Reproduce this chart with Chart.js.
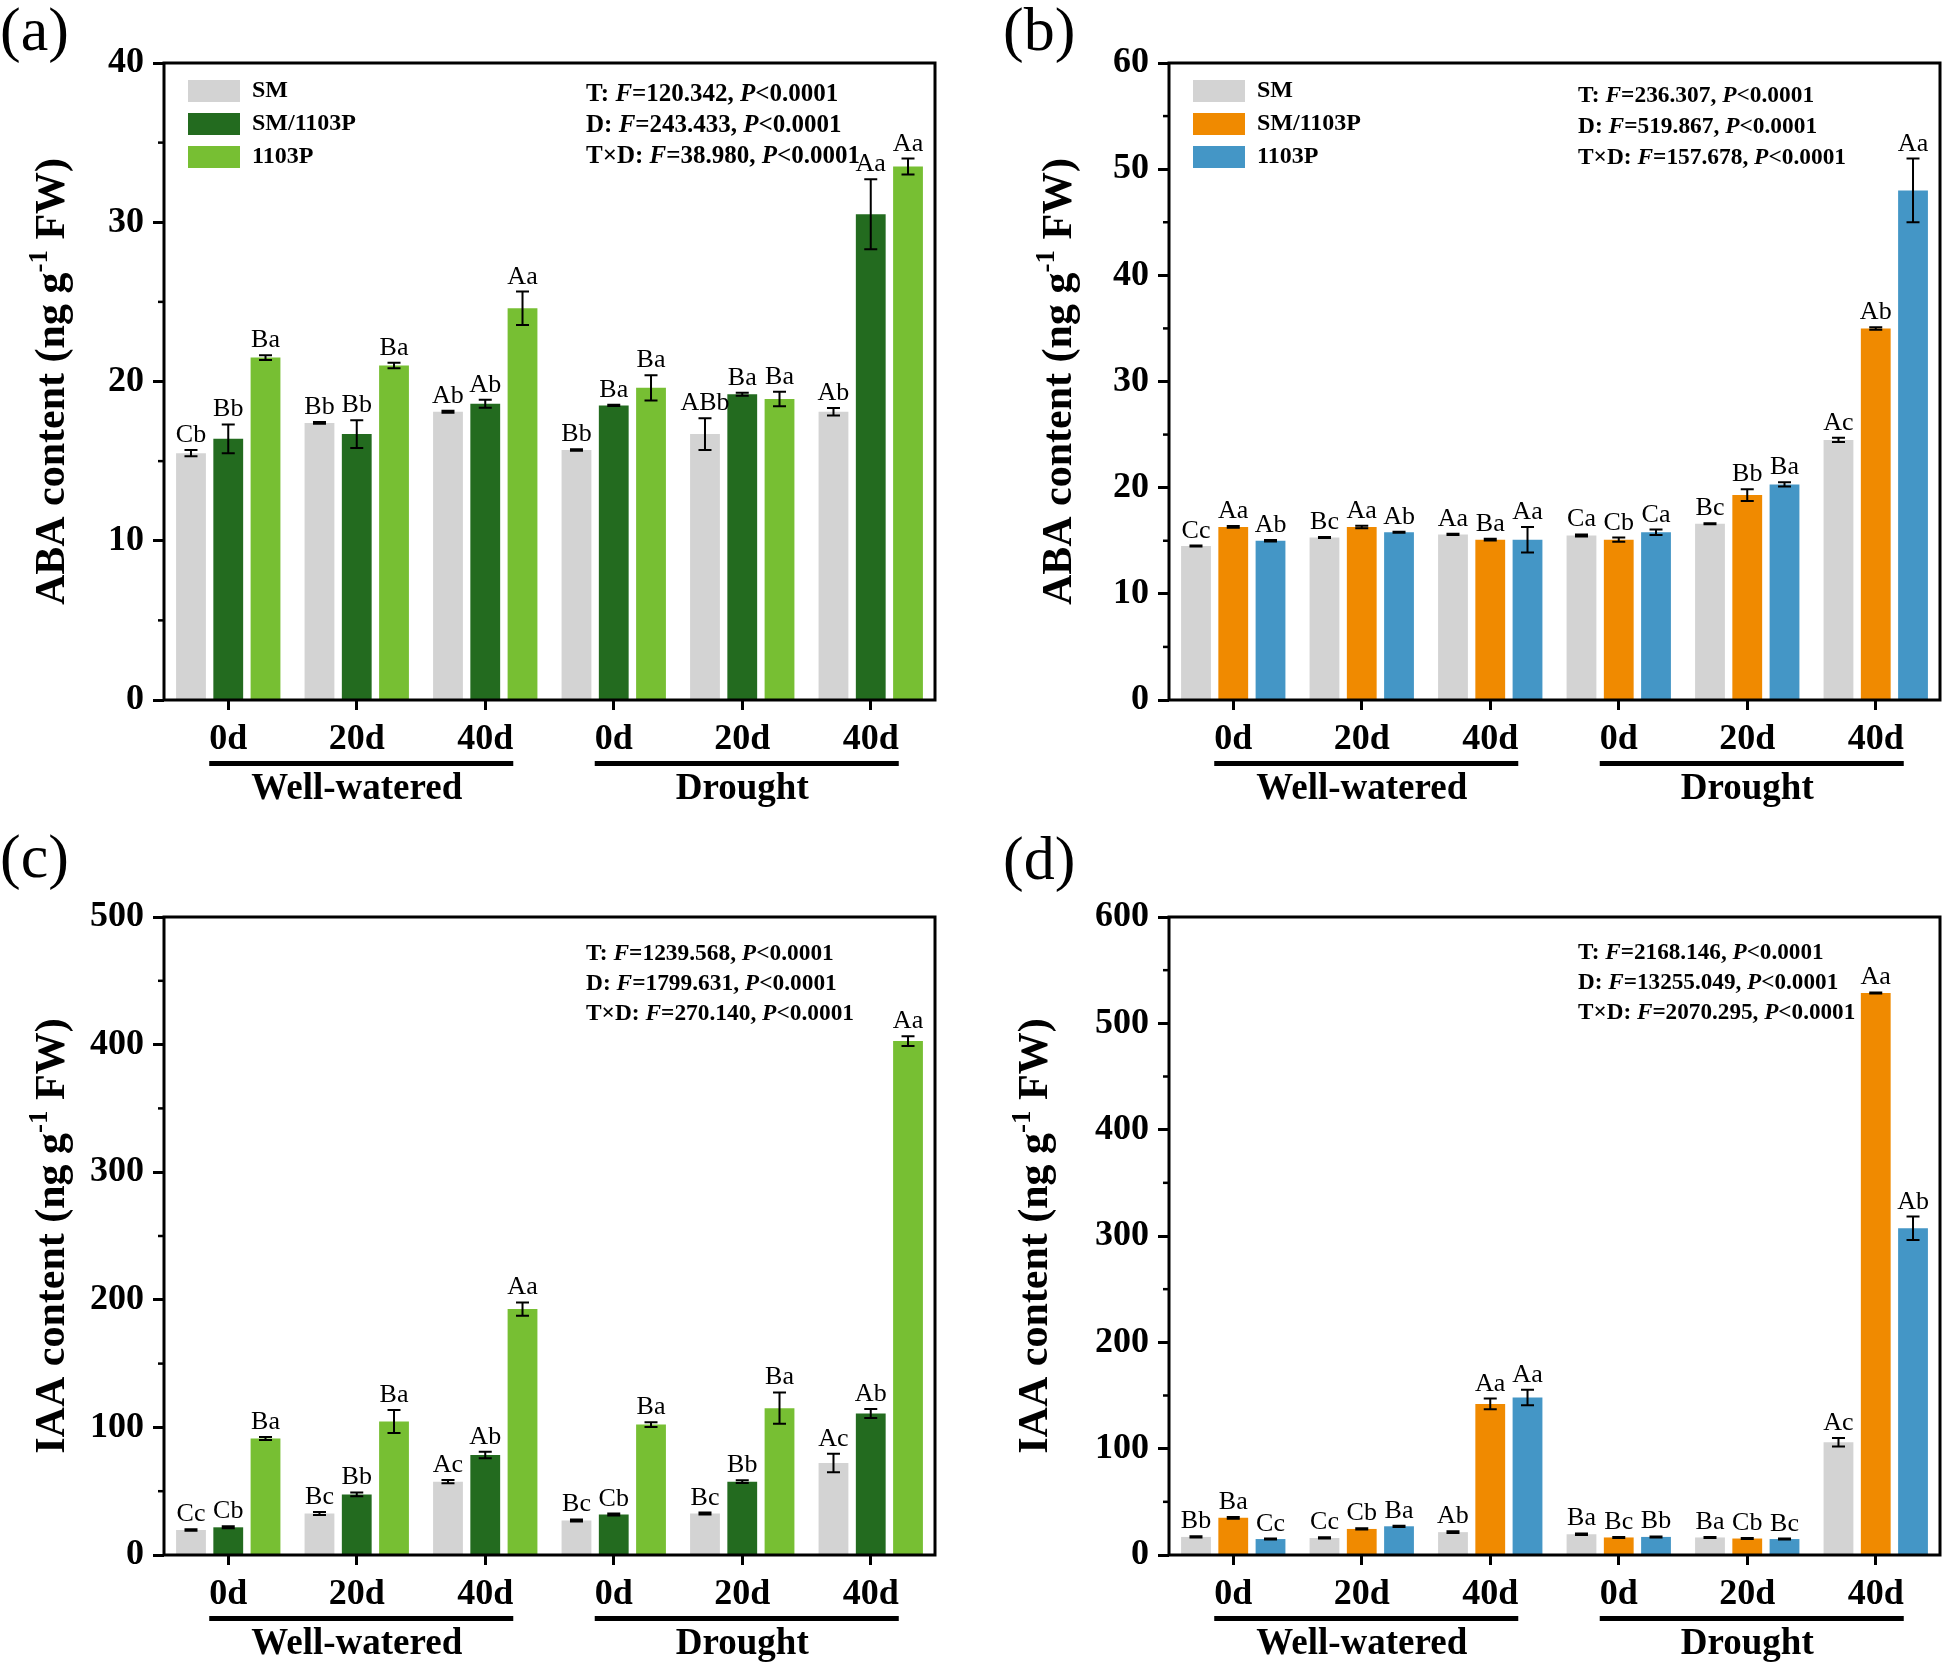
<!DOCTYPE html>
<html>
<head>
<meta charset="utf-8">
<script src="https://cdn.jsdelivr.net/npm/chart.js@4.4.0/dist/chart.umd.min.js"></script>
<style>
html, body { margin: 0; padding: 0; background: #fff; }
#wrap { position: relative; width: 1944px; height: 1668px; }
canvas { position: absolute; width: 972px; height: 834px; }
</style>
</head>
<body>
<div id="wrap">
  <canvas id="pa" width="972" height="834" style="left:0;top:0"></canvas>
  <canvas id="pb" width="972" height="834" style="left:972px;top:0"></canvas>
  <canvas id="pc" width="972" height="834" style="left:0;top:834px"></canvas>
  <canvas id="pd" width="972" height="834" style="left:972px;top:834px"></canvas>
</div>
<script>
// categories
var groups = ['0d', '20d', '40d', '0d', '20d', '40d'];
var treatments = ['Well-watered', 'Drought'];
var seriesNames = ['SM', 'SM/1103P', '1103P'];

// (a) ABA, green set
var abaA_SM = [15.5, 17.4, 18.1, 15.7, 16.7, 18.1];
var abaA_SMerr = [0.2, 0.05, 0.07, 0.05, 1.0, 0.23];
var abaA_MIX = [16.4, 16.7, 18.6, 18.5, 19.2, 30.5];
var abaA_MIXerr = [0.9, 0.87, 0.25, 0.04, 0.1, 2.2];
var abaA_P = [21.5, 21.0, 24.6, 19.6, 18.9, 33.5];
var abaA_Perr = [0.15, 0.17, 1.05, 0.8, 0.45, 0.5];
var abaA_letters = [
  ['Cb', 'Bb', 'Ab', 'Bb', 'ABb', 'Ab'],
  ['Bb', 'Bb', 'Ab', 'Ba', 'Ba', 'Aa'],
  ['Ba', 'Ba', 'Aa', 'Ba', 'Ba', 'Aa']
];
var abaA_stats = ['T: F=120.342, P<0.0001', 'D: F=243.433, P<0.0001', 'T×D: F=38.980, P<0.0001'];

// (b) ABA, orange/blue set
var abaB_SM = [14.5, 15.3, 15.6, 15.5, 16.6, 24.5];
var abaB_SMerr = [0.05, 0.05, 0.05, 0.1, 0.05, 0.2];
var abaB_MIX = [16.3, 16.3, 15.1, 15.1, 19.3, 35.0];
var abaB_MIXerr = [0.08, 0.12, 0.08, 0.2, 0.55, 0.12];
var abaB_P = [15.0, 15.8, 15.1, 15.8, 20.3, 48.0];
var abaB_Perr = [0.08, 0.05, 1.2, 0.25, 0.2, 3.0];
var abaB_letters = [
  ['Cc', 'Bc', 'Aa', 'Ca', 'Bc', 'Ac'],
  ['Aa', 'Aa', 'Ba', 'Cb', 'Bb', 'Ab'],
  ['Ab', 'Ab', 'Aa', 'Ca', 'Ba', 'Aa']
];
var abaB_stats = ['T: F=236.307, P<0.0001', 'D: F=519.867, P<0.0001', 'T×D: F=157.678, P<0.0001'];

// (c) IAA, green set
var iaaC_SM = [19.6, 32.5, 57.5, 27.1, 32.5, 72.1];
var iaaC_SMerr = [0.5, 1.2, 1.3, 0.8, 0.8, 7.3];
var iaaC_MIX = [21.7, 47.5, 78.4, 31.7, 57.5, 110.9];
var iaaC_MIXerr = [0.8, 1.5, 2.5, 0.8, 1.0, 3.5];
var iaaC_P = [91.3, 104.7, 192.7, 102.2, 115.1, 402.8];
var iaaC_Perr = [1.2, 9.0, 5.2, 1.8, 12.3, 3.8];
var iaaC_letters = [
  ['Cc', 'Bc', 'Ac', 'Bc', 'Bc', 'Ac'],
  ['Cb', 'Bb', 'Ab', 'Cb', 'Bb', 'Ab'],
  ['Ba', 'Ba', 'Aa', 'Ba', 'Ba', 'Aa']
];
var iaaC_stats = ['T: F=1239.568, P<0.0001', 'D: F=1799.631, P<0.0001', 'T×D: F=270.140, P<0.0001'];

// (d) IAA, orange/blue set
var iaaD_SM = [17.0, 16.0, 21.5, 19.5, 16.5, 106.1];
var iaaD_SMerr = [0.6, 0.6, 0.8, 0.8, 0.5, 4.0];
var iaaD_MIX = [35.0, 24.5, 142.1, 16.5, 15.5, 528.5];
var iaaD_MIXerr = [0.8, 0.6, 5.0, 0.5, 0.5, 0.5];
var iaaD_P = [15.0, 27.0, 148.1, 17.0, 15.0, 307.3];
var iaaD_Perr = [0.5, 0.6, 7.3, 0.5, 0.5, 11.0];
var iaaD_letters = [
  ['Bb', 'Cc', 'Ab', 'Ba', 'Ba', 'Ac'],
  ['Ba', 'Cb', 'Aa', 'Bc', 'Cb', 'Aa'],
  ['Cc', 'Ba', 'Aa', 'Bb', 'Bc', 'Ab']
];
var iaaD_stats = ['T: F=2168.146, P<0.0001', 'D: F=13255.049, P<0.0001', 'T×D: F=2070.295, P<0.0001'];

var greenColors = ['#d3d3d3', '#236b1f', '#77bf33'];
var warmColors = ['#d3d3d3', '#f08a00', '#4496c6'];

var SERIF = 'Liberation Serif';
Chart.defaults.font.family = SERIF;
Chart.defaults.color = '#000';

// text with italic F and P
function drawRich(ctx, str, x, y, size) {
  var parts = str.split(/(F(?==)|P(?=<))/);
  for (var k = 0; k < parts.length; k++) {
    var p = parts[k];
    if (!p) continue;
    ctx.font = (k % 2 === 1 ? 'italic ' : '') + 'bold ' + size + 'px ' + SERIF;
    ctx.fillText(p, x, y);
    x += ctx.measureText(p).width;
  }
}

var decoPlugin = {
  id: 'deco',
  afterDraw: function (chart) {
    var o = chart.options.plugins.deco;
    var ctx = chart.ctx, a = chart.chartArea;
    var xs = chart.scales.x, ys = chart.scales.y;
    ctx.save();
    ctx.fillStyle = '#000';
    ctx.strokeStyle = '#000';

    // error bars + letters
    chart.data.datasets.forEach(function (ds, i) {
      var meta = chart.getDatasetMeta(i);
      meta.data.forEach(function (bar, j) {
        var v = ds.data[j], e = ds.err[j];
        var yHi = ys.getPixelForValue(v + e), yLo = ys.getPixelForValue(v - e);
        ctx.lineWidth = 2;
        ctx.beginPath();
        ctx.moveTo(bar.x, yHi); ctx.lineTo(bar.x, yLo);
        ctx.moveTo(bar.x - 6.5, yHi); ctx.lineTo(bar.x + 6.5, yHi);
        ctx.moveTo(bar.x - 6.5, yLo); ctx.lineTo(bar.x + 6.5, yLo);
        ctx.stroke();
        ctx.font = '26px ' + SERIF;
        ctx.textAlign = 'center';
        ctx.textBaseline = 'alphabetic';
        ctx.fillText(ds.letters[j], bar.x, yHi - 8);
      });
    });

    // frame
    ctx.lineWidth = 3;
    ctx.strokeRect(a.left, a.top, a.right - a.left, a.bottom - a.top);

    // minor y ticks
    ctx.lineWidth = 2.5;
    for (var v = o.step / 2; v < o.max; v += o.step) {
      var py = ys.getPixelForValue(v);
      ctx.beginPath(); ctx.moveTo(a.left - 6, py); ctx.lineTo(a.left, py); ctx.stroke();
    }

    // legend
    if (o.legend) {
      chart.data.datasets.forEach(function (ds, i) {
        var cy = a.top + 28 + 33 * i;
        ctx.fillStyle = ds.backgroundColor;
        ctx.fillRect(a.left + 24, cy - 11, 52, 22);
        ctx.fillStyle = '#000';
        ctx.font = 'bold 24px ' + SERIF;
        ctx.textAlign = 'left';
        ctx.textBaseline = 'middle';
        ctx.fillText(ds.label, a.left + 88, cy);
      });
    }

    // ANOVA text
    ctx.textAlign = 'left';
    ctx.textBaseline = 'middle';
    o.stats.forEach(function (s, k) {
      drawRich(ctx, s, o.statsX, a.top + o.statsY + o.statsGap * k, o.statsSize);
    });

    // treatment underlines and names
    ctx.textBaseline = 'alphabetic';
    ctx.textAlign = 'center';
    for (var g = 0; g < 2; g++) {
      var i0 = g * 3, i2 = g * 3 + 2;
      ctx.font = 'bold 36px ' + SERIF;
      var x0 = xs.getPixelForTick(i0) - ctx.measureText(groups[i0]).width / 2;
      var x2 = xs.getPixelForTick(i2) + ctx.measureText(groups[i2]).width / 2;
      ctx.fillRect(x0, a.bottom + 61, x2 - x0, 5);
      ctx.font = 'bold 37px ' + SERIF;
      ctx.fillText(treatments[g], xs.getPixelForTick(g * 3 + 1), a.bottom + 99);
    }

    // y title with superscript
    ctx.save();
    ctx.translate(o.titleX, (a.top + a.bottom) / 2);
    ctx.rotate(-Math.PI / 2);
    var t1 = o.yTitle + ' content (ng g', t2 = '-1', t3 = ' FW)';
    ctx.font = 'bold 42px ' + SERIF;
    var w1 = ctx.measureText(t1).width, w3 = ctx.measureText(t3).width;
    ctx.font = 'bold 27px ' + SERIF;
    var w2 = ctx.measureText(t2).width;
    var sx = -(w1 + w2 + w3) / 2;
    ctx.textAlign = 'left';
    ctx.font = 'bold 42px ' + SERIF;
    ctx.fillText(t1, sx, 0);
    ctx.fillText(t3, sx + w1 + w2, 0);
    ctx.font = 'bold 27px ' + SERIF;
    ctx.fillText(t2, sx + w1, -17);
    ctx.restore();

    // panel tag
    ctx.font = '62px ' + SERIF;
    ctx.textAlign = 'left';
    ctx.fillText(o.tag, o.tagX, o.tagY);
    ctx.restore();
  }
};

function makePanel(id, p) {
  var H = 834;
  var sets = [p.sm, p.mix, p.pp];
  var errs = [p.smErr, p.mixErr, p.ppErr];
  return new Chart(document.getElementById(id), {
    type: 'bar',
    data: {
      labels: groups,
      datasets: seriesNames.map(function (name, i) {
        return {
          label: name,
          data: sets[i],
          err: errs[i],
          letters: p.letters[i],
          backgroundColor: p.colors[i],
          borderWidth: 0,
          categoryPercentage: 0.87,
          barPercentage: 0.8
        };
      })
    },
    options: {
      responsive: false,
      animation: false,
      layout: { padding: { top: p.area.top, right: 972 - p.area.right, left: 0, bottom: 0 } },
      plugins: {
        legend: { display: false },
        tooltip: { enabled: false },
        deco: {
          legend: p.legend, stats: p.stats, statsX: p.statsX, statsY: p.statsY,
          statsGap: p.statsGap, statsSize: p.statsSize,
          step: p.step, max: p.max, yTitle: p.yTitle, titleX: p.titleX,
          tag: p.tag, tagX: p.tagX, tagY: p.tagY
        }
      },
      scales: {
        x: {
          grid: { display: true, drawOnChartArea: false, offset: false, tickLength: 10, tickWidth: 3, color: '#000' },
          border: { display: false },
          ticks: { font: { size: 36, weight: 'bold' }, padding: 8, maxRotation: 0 },
          afterFit: function (s) { s.height = H - p.area.bottom; }
        },
        y: {
          min: 0, max: p.max,
          grid: { display: true, drawOnChartArea: false, tickLength: 11, tickWidth: 3, color: '#000' },
          border: { display: false },
          ticks: { stepSize: p.step, font: { size: 36, weight: 'bold' }, padding: 9 },
          afterFit: function (s) { s.width = p.area.left; }
        }
      }
    },
    plugins: [decoPlugin]
  });
}

makePanel('pa', {
  sm: abaA_SM, smErr: abaA_SMerr, mix: abaA_MIX, mixErr: abaA_MIXerr, pp: abaA_P, ppErr: abaA_Perr,
  letters: abaA_letters, stats: abaA_stats, colors: greenColors, legend: true,
  max: 40, step: 10, yTitle: 'ABA',
  area: { left: 164, right: 935, top: 63, bottom: 700 },
  titleX: 64, statsX: 586, statsY: 32, statsGap: 31, statsSize: 25,
  tag: '(a)', tagX: 0, tagY: 50
});
makePanel('pb', {
  sm: abaB_SM, smErr: abaB_SMerr, mix: abaB_MIX, mixErr: abaB_MIXerr, pp: abaB_P, ppErr: abaB_Perr,
  letters: abaB_letters, stats: abaB_stats, colors: warmColors, legend: true,
  max: 60, step: 10, yTitle: 'ABA',
  area: { left: 197, right: 968, top: 63, bottom: 700 },
  titleX: 99, statsX: 606, statsY: 33, statsGap: 31, statsSize: 23.4,
  tag: '(b)', tagX: 31, tagY: 50
});
makePanel('pc', {
  sm: iaaC_SM, smErr: iaaC_SMerr, mix: iaaC_MIX, mixErr: iaaC_MIXerr, pp: iaaC_P, ppErr: iaaC_Perr,
  letters: iaaC_letters, stats: iaaC_stats, colors: greenColors, legend: false,
  max: 500, step: 100, yTitle: 'IAA',
  area: { left: 164, right: 935, top: 83, bottom: 721 },
  titleX: 64, statsX: 586, statsY: 37, statsGap: 30, statsSize: 23.4,
  tag: '(c)', tagX: 0, tagY: 43
});
makePanel('pd', {
  sm: iaaD_SM, smErr: iaaD_SMerr, mix: iaaD_MIX, mixErr: iaaD_MIXerr, pp: iaaD_P, ppErr: iaaD_Perr,
  letters: iaaD_letters, stats: iaaD_stats, colors: warmColors, legend: false,
  max: 600, step: 100, yTitle: 'IAA',
  area: { left: 197, right: 968, top: 83, bottom: 721 },
  titleX: 75, statsX: 606, statsY: 36, statsGap: 30, statsSize: 23.2,
  tag: '(d)', tagX: 31, tagY: 45
});
</script>
</body>
</html>
